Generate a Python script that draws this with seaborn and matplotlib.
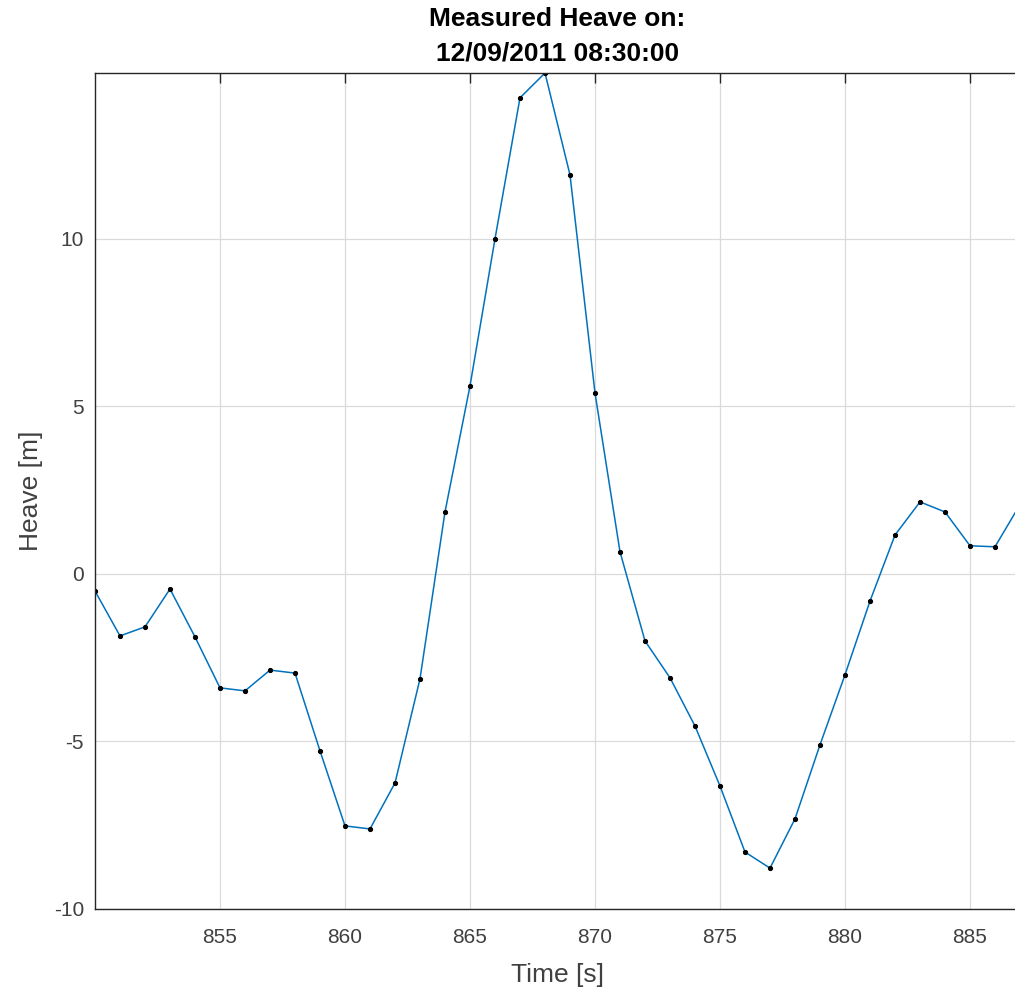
import matplotlib
matplotlib.use("Agg")
import matplotlib.pyplot as plt
import seaborn as sns
import pandas as pd
import numpy as np

time_s = list(range(850, 888))
heave_m = [-0.51, -1.85, -1.58, -0.45, -1.88, -3.40, -3.49, -2.87, -2.96, -5.28,
           -7.52, -7.61, -6.24, -3.13, 1.85, 5.61, 10.0, 14.21, 14.95, 11.91,
           5.40, 0.66, -2.0, -3.10, -4.54, -6.33, -8.30, -8.78, -7.31, -5.10,
           -3.01, -0.81, 1.16, 2.15, 1.85, 0.84, 0.81, 2.07]
x_ticks = [855, 860, 865, 870, 875, 880, 885]
y_ticks = [-10, -5, 0, 5, 10]

sns.set_theme(style="white")
plt.rcParams['font.family'] = ['Liberation Sans', 'DejaVu Sans']
plt.rcParams['axes.unicode_minus'] = False

df = pd.DataFrame({"Time": time_s, "Heave": heave_m})

fig = plt.figure(figsize=(10.15, 9.89), dpi=100)
ax = fig.add_axes([95/1015, 80/989, 925/1015, 836/989])

sns.lineplot(data=df, x="Time", y="Heave", ax=ax, color="#0072BD", linewidth=1.1,
             marker="o", markersize=3, markerfacecolor="black", markeredgecolor="black")

ax.set_xlim(850, 887)
ax.set_ylim(-10, 14.95)
ax.set_xticks(x_ticks)
ax.set_yticks(y_ticks)
ax.grid(True, color="#dadada", linewidth=0.9)
ax.set_axisbelow(True)
for s in ax.spines.values():
    s.set_color("#262626")
    s.set_linewidth(1.0)
ax.tick_params(axis="both", direction="in", length=7, width=1, colors="#262626",
               labelsize=15, labelcolor="#404040", top=True, right=False)
ax.tick_params(axis="x", pad=14)
ax.tick_params(axis="y", pad=8)
ax.set_xlabel("Time [s]", fontsize=19, color="#404040", labelpad=11)
ax.set_ylabel("Heave [m]", fontsize=19, color="#404040", labelpad=8)
ax.set_title("Measured Heave on:\n12/09/2011 08:30:00", fontsize=19, fontweight="bold",
             color="black", pad=9, linespacing=1.55)

fig.savefig("out.png", dpi=100)
